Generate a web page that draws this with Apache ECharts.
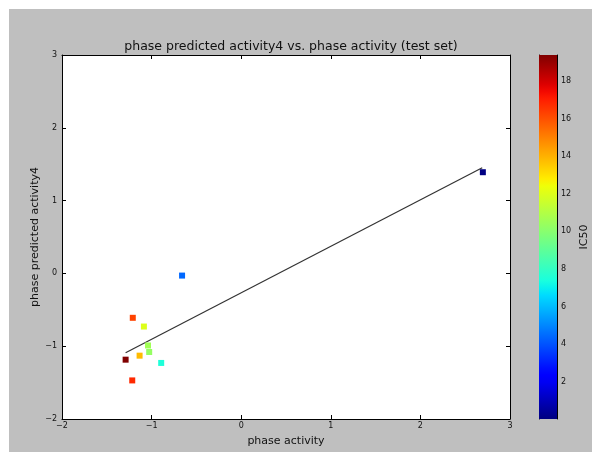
<!DOCTYPE html>
<html><head><meta charset="utf-8">
<script src="https://cdn.jsdelivr.net/npm/echarts@6/dist/echarts.min.js"></script>
<style>html,body{margin:0;padding:0;background:#fff}#c{width:592px;height:453px}</style>
</head><body><div id="c"></div>
<script>
// data
const xValues = [-0.66, -1.21, -1.086, -1.04, -1.027, -1.134, -1.29, -0.893, -1.216, 2.697];
const yValues = [-0.03, -0.61, -0.73, -0.99, -1.08, -1.13, -1.185, -1.23, -1.47, 1.39];
const ic50 = [4.4, 16.3, 12.0, 10.6, 10.3, 13.8, 19.4, 7.5, 16.8, 0.05];
const fitX = [-1.29, 2.69];
const fitY = [-1.09, 1.45];
const axisTicks = [-2, -1, 0, 1, 2, 3];
const cbMin = 0, cbMax = 19.4;

function jet(t){
  function interp(pts){
    for(let i=0;i<pts.length-1;i++){
      if(t>=pts[i][0]&&t<=pts[i+1][0]){
        const f=(t-pts[i][0])/(pts[i+1][0]-pts[i][0]);
        return pts[i][1]+f*(pts[i+1][1]-pts[i][1]);
      }
    }
    return pts[pts.length-1][1];
  }
  const r=interp([[0,0],[0.35,0],[0.66,1],[0.89,1],[1,0.5]]);
  const g=interp([[0,0],[0.125,0],[0.375,1],[0.64,1],[0.91,0],[1,0]]);
  const b=interp([[0,0.5],[0.11,1],[0.34,1],[0.65,0],[1,0]]);
  return 'rgb('+Math.round(r*255)+','+Math.round(g*255)+','+Math.round(b*255)+')';
}
const jetColors=[];
for(let i=0;i<=50;i++) jetColors.push(jet(i/50));

const pts = xValues.map((x,i)=>[x,yValues[i],ic50[i]]);
const fit = fitX.map((x,i)=>[x,fitY[i]]);

const FONT='DejaVu Sans';
const txt='#111';
const chart = echarts.init(document.getElementById('c'));
const mainAxisCommon = {
  type:'value', min:axisTicks[0], max:axisTicks[axisTicks.length-1], interval:1,
  axisLine:{show:true,onZero:false,lineStyle:{color:'#000',width:1}},
  axisTick:{show:true,inside:true,length:4,lineStyle:{color:'#000'}},
  splitLine:{show:false},
  axisLabel:{fontFamily:FONT,fontSize:8,color:txt,formatter:v=>(v<0?'\u2212'+(-v):''+v)}
};
chart.setOption({
  animation:false,
  backgroundColor:'#fff',
  graphic:[{type:'rect',shape:{x:9,y:9,width:583,height:443},style:{fill:'#bfbfbf'},z:-10,silent:true}],
  title:{text:'phase predicted activity4 vs. phase activity (test set)',left:286,top:35,textAlign:'center',
    textStyle:{fontFamily:FONT,fontSize:12.5,fontWeight:'normal',color:txt}},
  grid:[
    {left:62,top:55,width:448,height:364,backgroundColor:'#fff',show:true,borderWidth:0},
    {left:539,top:55,width:18,height:364,show:false}
  ],
  xAxis:[
    Object.assign({},mainAxisCommon,{gridIndex:0,position:'bottom',name:'phase activity',nameLocation:'middle',nameGap:17,nameMoveOverlap:false,
      nameTextStyle:{fontFamily:FONT,fontSize:11,color:txt},axisLabel:Object.assign({},mainAxisCommon.axisLabel,{margin:3})}),
    Object.assign({},mainAxisCommon,{gridIndex:0,position:'top',axisLabel:{show:false}}),
    {type:'value',gridIndex:1,min:0,max:1,show:false}
  ],
  yAxis:[
    Object.assign({},mainAxisCommon,{gridIndex:0,position:'left',name:'phase predicted activity4',nameLocation:'middle',nameGap:21,nameRotate:90,nameMoveOverlap:false,
      nameTextStyle:{fontFamily:FONT,fontSize:11,color:txt},axisLabel:Object.assign({},mainAxisCommon.axisLabel,{margin:5})}),
    Object.assign({},mainAxisCommon,{gridIndex:0,position:'right',axisLabel:{show:false}}),
    {type:'value',gridIndex:1,position:'right',min:cbMin,max:cbMax,interval:2,
      axisLine:{show:true,onZero:false,lineStyle:{color:'#000',width:1}},
      axisTick:{show:true,inside:true,length:4,lineStyle:{color:'#000'}},
      splitLine:{show:false},
      axisLabel:{fontFamily:FONT,fontSize:8,color:txt,margin:4,showMinLabel:false,showMaxLabel:false,
        formatter:v=>(v>0&&Math.abs(v-Math.round(v))<1e-6&&v%2===0)?String(v):''},
      name:'IC50',nameLocation:'middle',nameGap:22,nameRotate:90,
      nameTextStyle:{fontFamily:FONT,fontSize:11,color:txt}},
    {type:'value',gridIndex:1,position:'left',min:cbMin,max:cbMax,
      axisLine:{show:true,onZero:false,lineStyle:{color:'#000',width:1}},axisTick:{show:false},axisLabel:{show:false},splitLine:{show:false}}
  ],
  visualMap:{show:false,type:'continuous',min:cbMin,max:cbMax,dimension:2,seriesIndex:0,inRange:{color:jetColors}},
  series:[
    {type:'scatter',xAxisIndex:0,yAxisIndex:0,data:pts,symbol:'rect',symbolSize:6,itemStyle:{opacity:1},z:3},
    {type:'line',xAxisIndex:0,yAxisIndex:0,data:fit,symbol:'none',lineStyle:{color:'#333',width:1.2},z:2},
    {type:'custom',xAxisIndex:2,yAxisIndex:2,data:[[0,cbMin,1,cbMax]],z:1,
      renderItem:function(params,api){
        const p0=api.coord([api.value(0),api.value(1)]);
        const p1=api.coord([api.value(2),api.value(3)]);
        const stops=jetColors.map((c,i)=>({offset:i/(jetColors.length-1),color:c}));
        return {type:'rect',shape:{x:p0[0],y:p1[1],width:p1[0]-p0[0],height:p0[1]-p1[1]},
          style:{fill:new echarts.graphic.LinearGradient(0,1,0,0,stops)}};
      }}
  ]
});
</script></body></html>
